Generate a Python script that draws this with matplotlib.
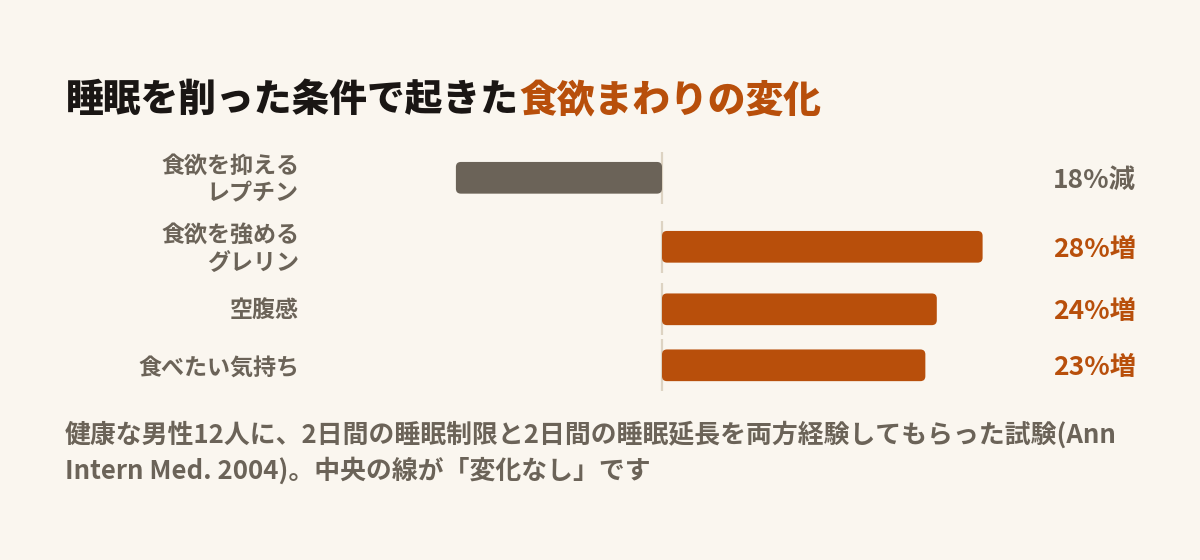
import matplotlib
matplotlib.use("Agg")
import matplotlib.pyplot as plt
from matplotlib.patches import FancyBboxPatch

# ---- data ----
categories = ["食欲を抑える\nレプチン", "食欲を強める\nグレリン", "空腹感", "食べたい気持ち"]
changes = [-18, 28, 24, 23]
value_labels = ["18%減", "28%増", "24%増", "23%増"]
title_main = "睡眠を削った条件で起きた"
title_accent = "食欲まわりの変化"
footnote = ("健康な男性12人に、2日間の睡眠制限と2日間の睡眠延長を両方経験してもらった試験(Ann\n"
            "Intern Med. 2004)。中央の線が「変化なし」です")

# ---- style ----
BG = "#FAF6EF"
GRAY = "#6B6358"
ORANGE = "#B84F0B"
INK = "#1A1614"
ZERO = "#DDD3C2"
FONT = ["Noto Sans CJK JP", "DejaVu Sans"]
plt.rcParams["font.family"] = FONT

W, H = 1200, 560
fig = plt.figure(figsize=(W / 100, H / 100), dpi=100, facecolor=BG)

# overlay axes in pixel coordinates for text layout
ov = fig.add_axes([0, 0, 1, 1])
ov.set_xlim(0, W)
ov.set_ylim(H, 0)
ov.axis("off")
ov.patch.set_alpha(0)

# bar axes: x in percent, y in pixel rows
zero_px, px_per = 662, 11.45
left_px, right_px = 300, 1140
ax = fig.add_axes([left_px / W, 0, (right_px - left_px) / W, 1])
ax.set_xlim((left_px - zero_px) / px_per, (right_px - zero_px) / px_per)
ax.set_ylim(H, 0)
ax.axis("off")
ax.patch.set_alpha(0)

# row layout from number of label lines
y = 145.8
centers = []
for lab in categories:
    n = lab.count("\n") + 1
    h = 51 + 13 * (n - 1)
    centers.append(y + h / 2)
    y += h + 5

bar_h = 31.7
text_dy = 2.5
for lab, v, vl, c in zip(categories, changes, value_labels, centers):
    col = ORANGE if v > 0 else GRAY
    ax.vlines(0, c - 26, c + 26, color=ZERO, lw=1.6, zorder=1)
    p = FancyBboxPatch((min(0, v), c - bar_h / 2), abs(v), bar_h,
                       boxstyle=f"round,pad=0,rounding_size={5 / px_per}",
                       mutation_aspect=px_per, facecolor=col, edgecolor="none", zorder=2)
    ax.add_patch(p)
    ov.text(299, c + text_dy, lab, ha="right", va="center", multialignment="right",
            fontsize=16.6, fontweight="bold", color=GRAY, linespacing=1.25)
    ov.text(1136, c + text_dy, vl, ha="right", va="center", fontsize=19,
            fontweight="bold", color=col)

t1 = ov.text(66, 100, title_main, ha="left", va="center", fontsize=27.2,
             fontweight="heavy", color=INK)
ov.annotate(title_accent, xy=(1, 0), xycoords=t1, ha="left", va="bottom",
            fontsize=27.2, fontweight="heavy", color=ORANGE)

ov.text(65, 453, footnote, ha="left", va="center", fontsize=18.6,
        fontweight="bold", color=GRAY, linespacing=1.4)

fig.savefig("out.png", dpi=100, facecolor=BG)
